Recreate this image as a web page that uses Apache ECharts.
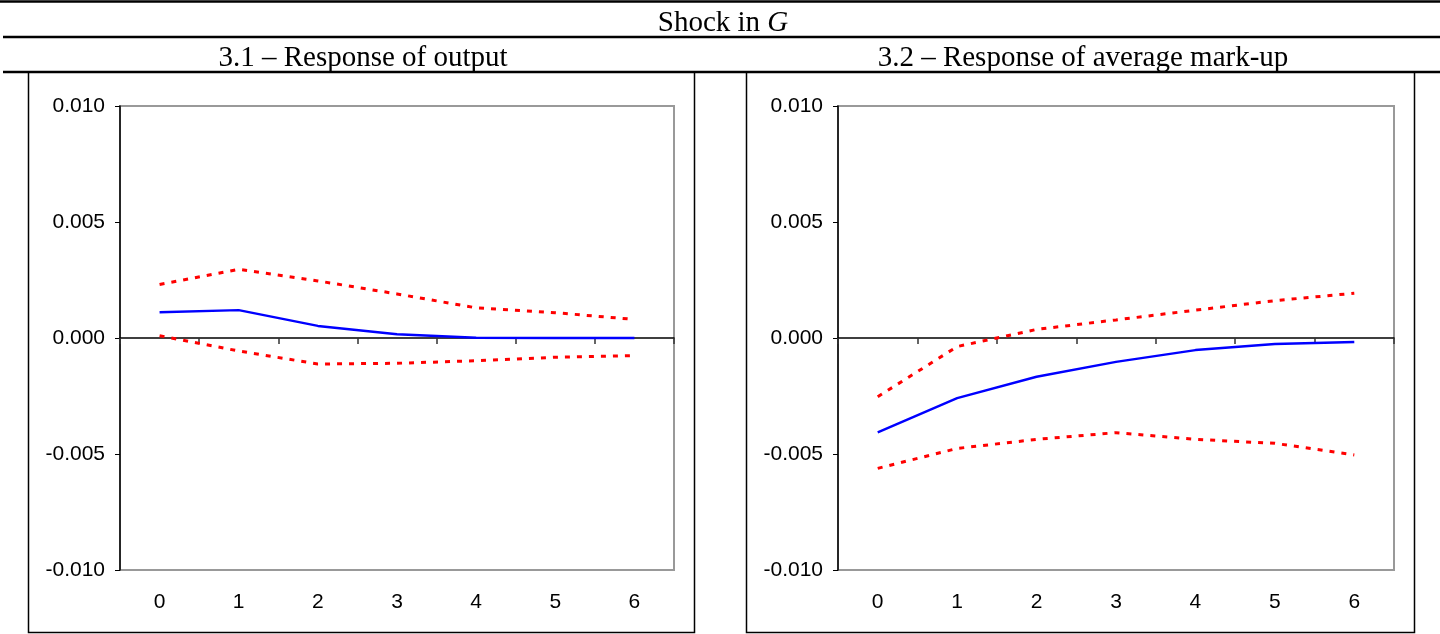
<!DOCTYPE html>
<html>
<head>
<meta charset="utf-8">
<script src="https://cdn.jsdelivr.net/npm/echarts@6/dist/echarts.min.js"></script>
<style>
html,body{margin:0;padding:0;background:#fff;}
#chart{width:1440px;height:634px;}
</style>
</head>
<body>
<div id="chart"></div>
<script>
// ---- data ----
var periods = ['0', '1', '2', '3', '4', '5', '6'];
var yTicks = [-0.010, -0.005, 0.000, 0.005, 0.010];

var outputIRF   = [0.00111, 0.00120, 0.00052, 0.00016, 0.00001, 0.00000, 0.00000];
var outputUpper = [0.00231, 0.00296, 0.00246, 0.00190, 0.00130, 0.00109, 0.00080];
var outputLower = [0.00010, -0.00056, -0.00112, -0.00109, -0.00098, -0.00083, -0.00076];

var markupIRF   = [-0.00407, -0.00259, -0.00167, -0.00103, -0.00052, -0.00026, -0.00017];
var markupUpper = [-0.00253, -0.00037, 0.00037, 0.00078, 0.00120, 0.00161, 0.00193];
var markupLower = [-0.00562, -0.00476, -0.00437, -0.00408, -0.00437, -0.00454, -0.00504];

var mainTitle = 'Shock in ';
var mainTitleItalic = 'G';
var panelTitles = ['3.1 \u2013 Response of output', '3.2 \u2013 Response of average mark-up'];

// ---- chart ----
var chart = echarts.init(document.getElementById('chart'), null, {renderer: 'canvas'});

var grids = [
  {left: 120, top: 106, width: 554, height: 464},
  {left: 838, top: 106, width: 556, height: 464}
];

function makeXAxes(gi) {
  return [
    {
      gridIndex: gi, type: 'category', data: periods, boundaryGap: true, position: 'bottom',
      axisLine: {onZero: true, lineStyle: {color: '#000', width: 1.5}},
      axisTick: {show: true, inside: false, length: 6, alignWithLabel: false, lineStyle: {color: '#333', width: 1.5}},
      axisLabel: {show: false},
      splitLine: {show: false}
    },
    {
      gridIndex: gi, type: 'category', data: periods, boundaryGap: true, position: 'bottom',
      axisLine: {show: false, onZero: false},
      axisTick: {show: false},
      axisLabel: {show: true, margin: 22, color: '#000', fontFamily: 'Liberation Sans, Arial, sans-serif', fontSize: 21},
      splitLine: {show: false}
    }
  ];
}

function makeYAxis(gi) {
  return {
    gridIndex: gi, type: 'value',
    min: yTicks[0], max: yTicks[yTicks.length - 1], interval: 0.005,
    axisLine: {show: true, onZero: false, lineStyle: {color: '#000', width: 1.5}},
    axisTick: {show: true, inside: false, length: 5, lineStyle: {color: '#000', width: 1}},
    axisLabel: {
      margin: 15, color: '#000', fontFamily: 'Liberation Sans, Arial, sans-serif', fontSize: 21,
      formatter: function (v) { return v.toFixed(3); }
    },
    splitLine: {show: false}
  };
}

function solid(data, xi, yi) {
  return {
    type: 'line', data: data, xAxisIndex: xi, yAxisIndex: yi,
    symbol: 'none', smooth: false, silent: true,
    lineStyle: {color: '#0000ff', width: 2.4}
  };
}
function dotted(data, xi, yi) {
  return {
    type: 'line', data: data, xAxisIndex: xi, yAxisIndex: yi,
    symbol: 'none', smooth: false, silent: true,
    lineStyle: {color: '#ff0000', width: 3, type: [5, 7], cap: 'butt'}
  };
}

var xAxes = makeXAxes(0).concat(makeXAxes(1));
var yAxes = [makeYAxis(0), makeYAxis(1)];

var serif = 'Liberation Serif, Times New Roman, serif';

var option = {
  backgroundColor: '#fff',
  animation: false,
  title: [
    {
      text: '{n|' + mainTitle + '}{i|' + mainTitleItalic + '}',
      left: 718, top: 4, textAlign: 'center',
      textStyle: {
        fontWeight: 'normal',
        rich: {
          n: {fontFamily: serif, fontSize: 29, fontWeight: 'normal', color: '#000'},
          i: {fontFamily: serif, fontSize: 29, fontWeight: 'normal', fontStyle: 'italic', color: '#000'}
        }
      }
    },
    {
      text: panelTitles[0], left: 358, top: 39, textAlign: 'center',
      textStyle: {fontFamily: serif, fontSize: 29, fontWeight: 'normal', color: '#000'}
    },
    {
      text: panelTitles[1], left: 1078, top: 39, textAlign: 'center',
      textStyle: {fontFamily: serif, fontSize: 29, fontWeight: 'normal', color: '#000'}
    }
  ],
  grid: grids.map(function (g) {
    return {left: g.left, top: g.top, width: g.width, height: g.height,
      show: true, borderColor: '#999', borderWidth: 2, backgroundColor: 'transparent', containLabel: false};
  }),
  xAxis: xAxes,
  yAxis: yAxes,
  series: [
    dotted(outputUpper, 0, 0),
    dotted(outputLower, 0, 0),
    solid(outputIRF, 0, 0),
    dotted(markupUpper, 2, 1),
    dotted(markupLower, 2, 1),
    solid(markupIRF, 2, 1)
  ],
  graphic: [
    {type: 'line', shape: {x1: 0, y1: 1.5, x2: 1440, y2: 1.5}, style: {stroke: '#000', lineWidth: 2.5}, silent: true},
    {type: 'line', shape: {x1: 3, y1: 37, x2: 1440, y2: 37}, style: {stroke: '#000', lineWidth: 2.5}, silent: true},
    {type: 'line', shape: {x1: 3, y1: 72, x2: 1440, y2: 72}, style: {stroke: '#000', lineWidth: 2.5}, silent: true},
    {type: 'polyline', shape: {points: [[28.5, 72], [28.5, 632.5], [694.5, 632.5], [694.5, 72]]}, style: {stroke: '#000', fill: null, lineWidth: 1.5}, silent: true},
    {type: 'polyline', shape: {points: [[746.5, 72], [746.5, 632.5], [1414.5, 632.5], [1414.5, 72]]}, style: {stroke: '#000', fill: null, lineWidth: 1.5}, silent: true}
  ]
};

chart.setOption(option);
</script>
</body>
</html>
